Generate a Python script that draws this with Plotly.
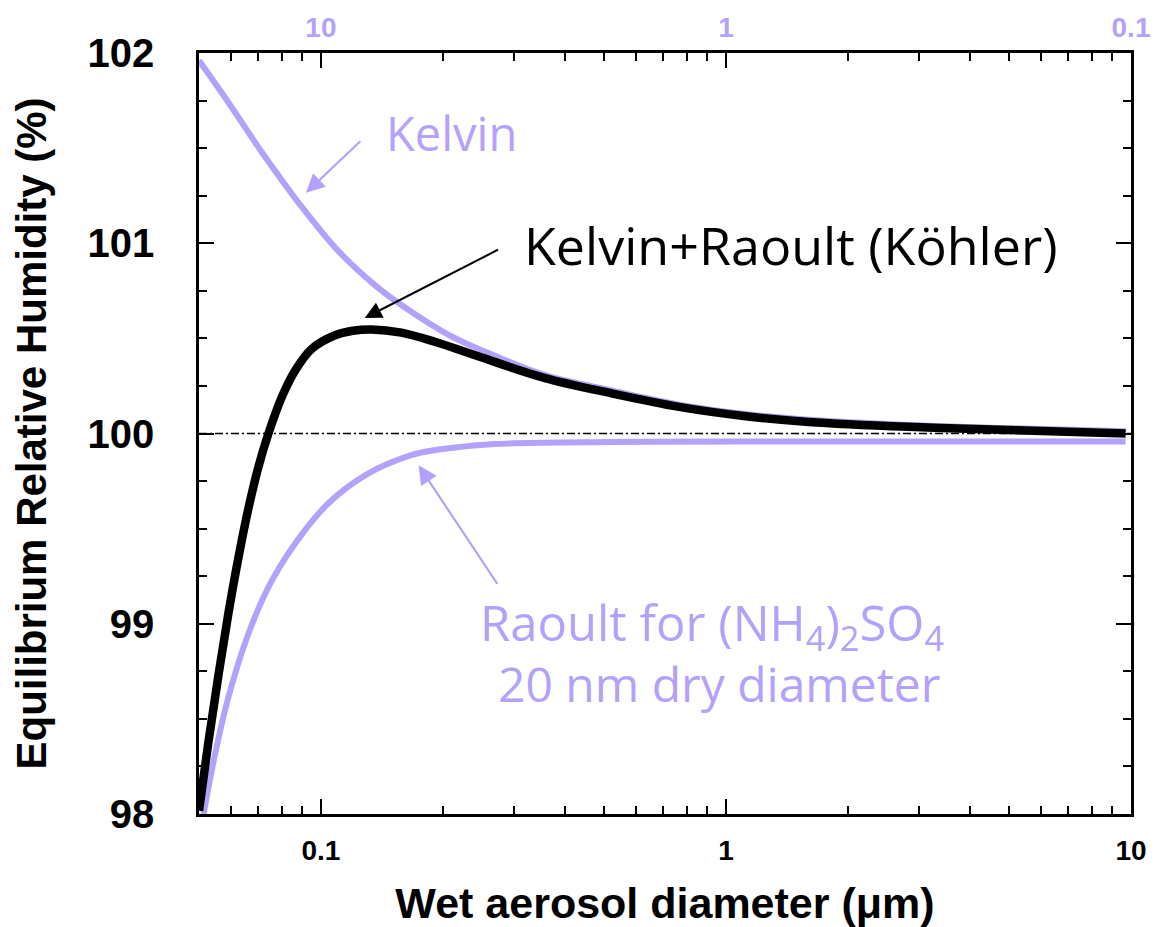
import plotly.graph_objects as go

# ---------------- data ----------------
kelvin_d = [0.05, 0.0591, 0.0714, 0.0913, 0.1103, 0.1359, 0.158, 0.206, 0.268,
            0.36, 0.525, 0.766, 1.118, 1.6, 2.82, 4.98, 9.7]
kelvin_rh = [101.96, 101.74, 101.48, 101.17, 100.96, 100.78, 100.675, 100.52, 100.41,
             100.305, 100.225, 100.152, 100.102, 100.072, 100.045, 100.028, 100.012]

kohler_d = [0.05, 0.0528, 0.0559, 0.0591, 0.0626, 0.0662, 0.0701, 0.0742, 0.080, 0.0863,
            0.0949, 0.108, 0.12, 0.1333, 0.158, 0.191, 0.2464, 0.3597, 0.525, 0.766, 1.118,
            1.6, 2.82, 4.98, 9.7]
kohler_rh = [98.017, 98.384, 98.735, 99.055, 99.35, 99.605, 99.825, 100.0, 100.19, 100.33,
             100.445, 100.515, 100.54, 100.547, 100.53, 100.482, 100.403, 100.29, 100.21, 100.14,
             100.091, 100.061, 100.035, 100.018, 100.0]

raoult_d = [0.0513, 0.0548, 0.0591, 0.0662, 0.0742, 0.0863, 0.1042, 0.1307, 0.167, 0.19,
            0.222, 0.268, 0.525, 1.118, 9.7]
raoult_rh = [98.0, 98.316, 98.614, 98.947, 99.193, 99.421, 99.632, 99.789, 99.886, 99.912,
             99.93, 99.945, 99.955, 99.958, 99.958]

ref_d = [0.05, 10]
ref_rh = [100, 100]

x_tickvals = [0.1, 1, 10]
x_ticktext = ["0.1", "1", "10"]
top_ticktext = ["10", "1", "0.1"]
x_minor = [0.06, 0.07, 0.08, 0.09, 0.2, 0.3, 0.4, 0.5, 0.6, 0.7, 0.8, 0.9,
           2, 3, 4, 5, 6, 7, 8, 9]
y_tickvals = [98, 99, 100, 101, 102]

LAV = "#b4a1fb"
AX_FONT = "Arial, 'Liberation Sans', sans-serif"
ANN_FONT = "'Open Sans', 'Noto Sans', sans-serif"

fig = go.Figure()

fig.add_trace(go.Scatter(x=ref_d, y=ref_rh, mode="lines",
                         line=dict(color="black", width=1.5, dash="8px,3px,2px,3px"),
                         showlegend=False, hoverinfo="skip"))
fig.add_trace(go.Scatter(x=kelvin_d, y=kelvin_rh, mode="lines", name="Kelvin",
                         line=dict(color=LAV, width=6, shape="spline", smoothing=1.0),
                         showlegend=False))
fig.add_trace(go.Scatter(x=raoult_d, y=raoult_rh, mode="lines", name="Raoult",
                         line=dict(color=LAV, width=6, shape="spline", smoothing=1.0),
                         showlegend=False))
fig.add_trace(go.Scatter(x=kohler_d, y=kohler_rh, mode="lines", name="Köhler",
                         line=dict(color="black", width=8.5, shape="spline", smoothing=1.0),
                         showlegend=False))
# helper trace so that the top and right axes are drawn
fig.add_trace(go.Scatter(x=ref_d, y=ref_rh, xaxis="x2", yaxis="y2", mode="lines",
                         line=dict(width=0), opacity=0, showlegend=False, hoverinfo="skip"))

axis_common = dict(showline=True, linecolor="black", linewidth=2.5, showgrid=False,
                   zeroline=False, ticks="inside", tickcolor="black", tickwidth=2,
                   automargin=False)

fig.update_layout(
    width=1151, height=919,
    margin=dict(l=191, r=28, t=45, b=113),
    paper_bgcolor="white", plot_bgcolor="white",
    showlegend=False,
    xaxis=dict(type="log", range=[-1.30103, 1.0], tickmode="array",
               tickvals=x_tickvals, ticktext=x_ticktext, ticklen=15,
               tickfont=dict(family=AX_FONT, size=28, color="black", weight="bold"),
               ticklabelstandoff=10,
               minor=dict(tickmode="array", tickvals=x_minor, ticks="inside", ticklen=8,
                          tickwidth=2, tickcolor="black", showgrid=False),
               title=dict(text="Wet aerosol diameter (μm)", standoff=23,
                          font=dict(family=AX_FONT, size=43, color="black", weight="bold")),
               **axis_common),
    xaxis2=dict(type="log", range=[-1.30103, 1.0], overlaying="x", side="top",
                tickmode="array", tickvals=x_tickvals, ticktext=top_ticktext, ticklen=15,
                tickfont=dict(family=AX_FONT, size=28, color=LAV, weight="bold"),
                ticklabelstandoff=2,
                minor=dict(tickmode="array", tickvals=x_minor, ticks="inside", ticklen=8,
                           tickwidth=2, tickcolor="black", showgrid=False),
                **axis_common),
    yaxis=dict(range=[98, 102], tickmode="array", tickvals=y_tickvals, ticklen=15,
               tickfont=dict(family=AX_FONT, size=40, color="black", weight="bold"),
               ticklabelstandoff=34,
               minor=dict(dtick=0.25, ticks="inside", ticklen=8, tickwidth=2,
                          tickcolor="black", showgrid=False),
               title=dict(text="Equilibrium Relative Humidity (%)", standoff=32,
                          font=dict(family=AX_FONT, size=42, color="black", weight="bold")),
               **axis_common),
    yaxis2=dict(range=[98, 102], overlaying="y", side="right", tickmode="array",
                tickvals=y_tickvals, ticklen=15, showticklabels=False,
                minor=dict(dtick=0.25, ticks="inside", ticklen=8, tickwidth=2,
                           tickcolor="black", showgrid=False),
                **axis_common),
)

annotations = [
    # arrows
    dict(x=-1.037, y=101.265, ax=-0.899, ay=101.544, xref="x", yref="y", axref="x", ayref="y",
         showarrow=True, arrowhead=2, arrowsize=1.7, arrowwidth=2.2, arrowcolor=LAV, text="",
         standoff=0),
    dict(x=-0.892, y=100.607, ax=-0.559, ay=100.970, xref="x", yref="y", axref="x", ayref="y",
         showarrow=True, arrowhead=2, arrowsize=1.7, arrowwidth=2, arrowcolor="black", text="",
         standoff=0),
    dict(x=-0.759, y=99.833, ax=-0.562, ay=99.2016, xref="x", yref="y", axref="x", ayref="y",
         showarrow=True, arrowhead=2, arrowsize=1.7, arrowwidth=2.2, arrowcolor=LAV, text="",
         standoff=0),
    # labels
    dict(x=-0.677, y=101.58, xref="x", yref="y", showarrow=False, text="Kelvin",
         font=dict(family=ANN_FONT, size=47, color=LAV)),
    dict(x=0.160, y=100.996, xref="x", yref="y", showarrow=False,
         text="Kelvin+Raoult (Köhler)",
         font=dict(family=ANN_FONT, size=52, color="black")),
    dict(x=-0.0345, y=98.991, xref="x", yref="y", showarrow=False,
         text="Raoult for (NH<sub>4</sub>)<sub>2</sub>SO<sub>4</sub>",
         font=dict(family=ANN_FONT, size=49, color=LAV)),
    dict(x=-0.017, y=98.686, xref="x", yref="y", showarrow=False,
         text="20 nm dry diameter",
         font=dict(family=ANN_FONT, size=48, color=LAV)),
]
fig.update_layout(annotations=annotations)

fig.write_html("out.html")
